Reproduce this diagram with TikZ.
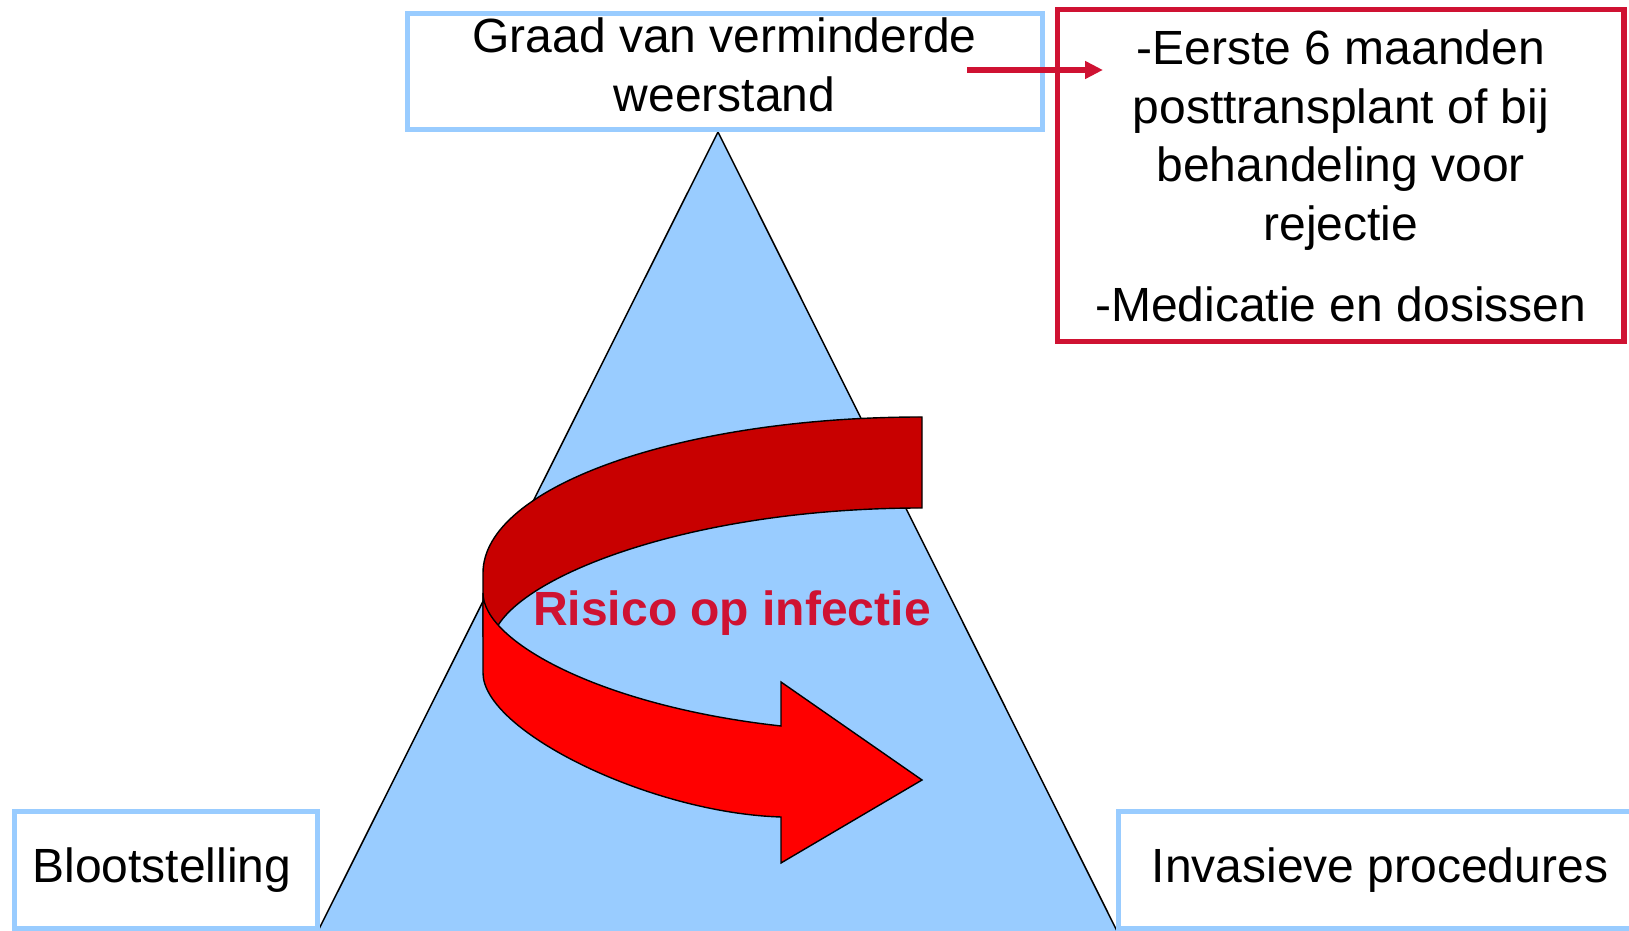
\documentclass[tikz,border=0pt]{standalone}
\usepackage{fontspec}
\setmainfont{Liberation Sans}
\usetikzlibrary{arrows.meta}
\definecolor{paleblue}{HTML}{99CCFF}
\definecolor{alert}{HTML}{CF1232}
\definecolor{backband}{HTML}{C80000}
\definecolor{frontband}{HTML}{FF0000}
\tikzset{
  frame/.style={draw=paleblue, line width=2.5pt, fill=white, align=center, inner sep=0pt},
  note/.style={frame, draw=alert, line width=2.75pt},
  ribbon/.style={draw=black, line width=0.7pt},
  flow/.style={-{Triangle[length=9pt, width=8.5pt]}, alert, line width=2.75pt},
}

\begin{document}
\begin{tikzpicture}[x=0.5pt, y=0.5pt, font=\fontsize{24}{29.25}\selectfont]
  \useasboundingbox (0,0) rectangle (1629,931);
  \clip (0,0) rectangle (1629,931);

  % triangle
  \draw[fill=paleblue, line width=0.75pt] (718,799) -- (1127,-20) -- (308,-20) -- cycle;

  % curved arrow: back part, then front part with head
  \draw[ribbon, fill=backband] (922,514) .. controls (680,514) and (483,444) .. (483,358)
    -- (483,295) -- (495,300) .. controls (520,355) and (690,423) .. (922,423) -- cycle;
  \draw[ribbon, fill=frontband] (483,338) .. controls (483,290) and (600,225) .. (781,205)
    -- (781,249) -- (922,151) -- (781,68) -- (781,114)
    .. controls (650,118) and (483,200) .. (483,258) -- cycle;
  \node[anchor=base, text=alert, font=\fontsize{24}{29.25}\selectfont\bfseries] (risico) at (732,305) {Risico op infectie};

  % boxes
  \node[frame, minimum width=317.5pt, minimum height=58pt, text depth=7.3pt] (graad) at (724.5,859) {Graad van verminderde\\weerstand};
  \node[note, minimum width=283.25pt, minimum height=165.9pt, text depth=-3.6pt] (periode) at (1340.75,755.4)
    {-Eerste 6 maanden\\posttransplant of bij\\behandeling voor\\rejectie\\[11.1pt]-Medicatie en dosissen};
  \node[frame, minimum width=151.25pt, minimum height=58.75pt] (bloot) at (165.75,60.75) {Blootstelling\hspace*{4pt}};
  \node[frame, minimum width=261.5pt, minimum height=58.75pt] (invasief) at (1380,60.75) {Invasieve procedures};

  \coordinate (from) at (967,861);
  \coordinate (to) at (1103,861);
  \draw[flow] (from) -- (to);
\end{tikzpicture}
\end{document}
